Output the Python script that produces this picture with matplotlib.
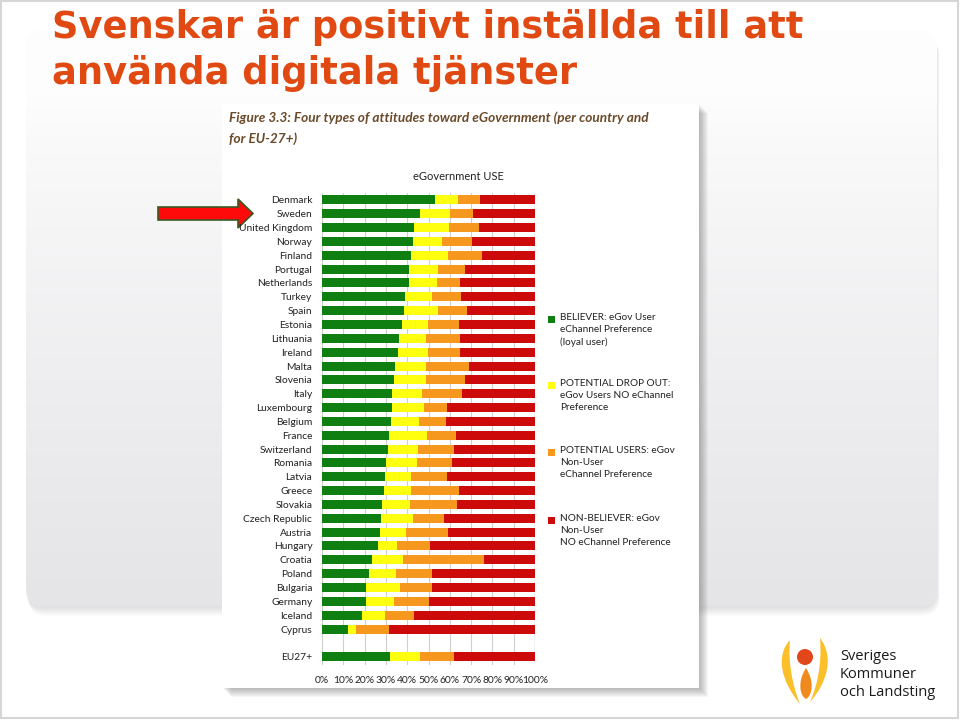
import numpy as np
import matplotlib
matplotlib.use('Agg')
import matplotlib.pyplot as plt
from matplotlib.patches import FancyBboxPatch, Rectangle, Polygon, Circle, PathPatch
from matplotlib.path import Path

# data (percent per segment, red is the rest)
countries = ['Denmark', 'Sweden', 'United Kingdom', 'Norway', 'Finland', 'Portugal',
             'Netherlands', 'Turkey', 'Spain', 'Estonia', 'Lithuania', 'Ireland',
             'Malta', 'Slovenia', 'Italy', 'Luxembourg', 'Belgium', 'France',
             'Switzerland', 'Romania', 'Latvia', 'Greece', 'Slovakia',
             'Czech Republic', 'Austria', 'Hungary', 'Croatia', 'Poland',
             'Bulgaria', 'Germany', 'Iceland', 'Cyprus', 'EU27+']
believer = [53.2, 46.0, 43.0, 42.5, 41.6, 41.0, 40.8, 39.1, 38.3, 37.4, 36.3, 35.6,
            34.2, 33.6, 33.0, 33.0, 32.2, 31.6, 31.2, 30.0, 29.5, 29.0, 28.4,
            27.9, 27.2, 26.1, 23.7, 22.3, 20.6, 20.6, 18.7, 12.4, 31.9]
drop_out = [10.5, 14.1, 16.7, 13.7, 17.4, 13.5, 13.0, 12.7, 16.2, 12.4, 12.4, 14.2,
            14.5, 15.1, 13.8, 15.0, 13.3, 17.9, 14.0, 14.7, 12.4, 12.6, 12.9,
            14.6, 12.2, 9.2, 14.1, 12.4, 16.0, 13.3, 11.1, 3.6, 14.1]
potential = [10.7, 10.7, 13.8, 14.1, 15.9, 12.7, 11.2, 13.5, 13.8, 14.3, 16.1, 15.2,
             20.5, 18.3, 19.1, 10.9, 12.7, 13.3, 16.7, 16.4, 16.7, 22.9, 22.0,
             14.6, 19.8, 15.6, 38.3, 16.8, 15.0, 16.2, 13.5, 15.6, 16.0]
non_believer = [100 - a - b - c for a, b, c in zip(believer, drop_out, potential)]

legend_labels = ['BELIEVER: eGov User\neChannel Preference\n(loyal user)',
                 'POTENTIAL DROP OUT:\neGov Users NO eChannel\nPreference',
                 'POTENTIAL USERS: eGov\nNon-User\neChannel Preference',
                 'NON-BELIEVER: eGov\nNon-User\nNO eChannel Preference']
colors = ['#0f7f12', '#ffff10', '#f7981e', '#cc0a0a']
tick_labels = ['%d%%' % v for v in range(0, 101, 10)]

fig = plt.figure(figsize=(9.6, 7.2), dpi=100)
fig.patch.set_facecolor('white')

# background slide drawn in pixel coordinates
bg = fig.add_axes([0, 0, 1, 1])
bg.set_xlim(0, 960)
bg.set_ylim(720, 0)
bg.axis('off')

bg.add_patch(Rectangle((1, 1), 957, 717, fill=False, edgecolor='#d6d6d6', lw=1.5))

# soft shadow under the grey panel
for i in range(6):
    bg.add_patch(FancyBboxPatch((26 + i * 0.5, 32 + i * 1.5), 911, 576,
                                boxstyle='round,pad=0,rounding_size=18',
                                facecolor='#999999', edgecolor='none', alpha=0.05,
                                zorder=-2))
panel = FancyBboxPatch((26, 30), 911, 576, boxstyle='round,pad=0,rounding_size=18',
                       facecolor='white', edgecolor='none', zorder=-1)
bg.add_patch(panel)
grad = np.clip((np.linspace(0, 1, 200) - 0.1) / 0.9, 0, 1) ** 0.8
shade = np.ones((200, 2, 3))
for k, c in enumerate([0.898, 0.898, 0.91]):
    shade[:, :, k] = (1 - grad[:, None]) * 0.995 + grad[:, None] * c
img = bg.imshow(shade, extent=(26, 937, 606, 30), aspect='auto', origin='upper',
                zorder=0)
img.set_clip_path(panel)
bg.set_xlim(0, 960)
bg.set_ylim(720, 0)

# shadow and white sheet of the figure image
for i in range(1, 10):
    bg.add_patch(Rectangle((222 + i, 104 + i), 477, 584, facecolor='#555555',
                           edgecolor='none', alpha=0.05, zorder=1))
bg.add_patch(Rectangle((222, 104), 477, 584, facecolor='white', edgecolor='none',
                       zorder=1.5))

# title
bg.text(52, 28, 'Svenskar är positivt inställda till att', fontsize=26.5,
        fontweight='bold', color='#e04a12', va='center', ha='left', zorder=3)
bg.text(52, 73, 'använda digitala tjänster', fontsize=26.5,
        fontweight='bold', color='#e04a12', va='center', ha='left', zorder=3)

# figure caption
bg.text(229, 118, 'Figure 3.3: Four types of attitudes toward eGovernment (per country and',
        fontsize=9.8, family='Lato', fontweight='bold', style='italic',
        color='#6b4a2a', va='center', zorder=3)
bg.text(229, 139, 'for EU-27+)', fontsize=9.8, family='Lato', fontweight='bold',
        style='italic', color='#6b4a2a', va='center', zorder=3)
bg.text(458, 177, 'eGovernment USE', fontsize=8, family='Lato', color='#222222',
        ha='center', va='center', zorder=3)

# legend
legend_y = [319, 385, 452, 520]
for lab, col, ly in zip(legend_labels, colors, legend_y):
    bg.add_patch(Rectangle((548, ly - 3.5), 7, 7, facecolor=col, edgecolor='none',
                           zorder=3))
    bg.text(560, ly - 6, lab, fontsize=7.2, family='Lato', color='#222222',
            va='top', ha='left', linespacing=1.45, zorder=3)

# red arrow pointing at Sweden
arrow = Polygon([(158, 207), (238, 207), (238, 199), (253, 213.5), (238, 228),
                 (238, 220), (158, 220)], closed=True, facecolor='#ff0a0a',
                edgecolor='#3a5a22', lw=1.2, zorder=3)
bg.add_patch(arrow)

# logo
left_flame = Path([(790, 640), (776, 655), (780, 680), (800, 704),
                   (792, 684), (788, 662), (790, 640)],
                  [Path.MOVETO, Path.CURVE4, Path.CURVE4, Path.CURVE4,
                   Path.CURVE4, Path.CURVE4, Path.CURVE4])
right_flame = Path([(820, 638), (834, 656), (828, 682), (810, 702),
                    (818, 684), (822, 662), (820, 638)],
                   [Path.MOVETO, Path.CURVE4, Path.CURVE4, Path.CURVE4,
                    Path.CURVE4, Path.CURVE4, Path.CURVE4])
drop = Path([(806, 668), (797, 682), (800, 696), (806, 699),
             (812, 696), (815, 682), (806, 668)],
            [Path.MOVETO, Path.CURVE4, Path.CURVE4, Path.CURVE4,
             Path.CURVE4, Path.CURVE4, Path.CURVE4])
bg.add_patch(PathPatch(left_flame, facecolor='#fbbf2a', edgecolor='none', zorder=3))
bg.add_patch(PathPatch(right_flame, facecolor='#fbbf2a', edgecolor='none', zorder=3))
bg.add_patch(PathPatch(drop, facecolor='#f18a1c', edgecolor='none', zorder=3))
bg.add_patch(Circle((805, 657), 8, facecolor='#e2461b', edgecolor='none', zorder=3))
for txt, ty in zip(['Sveriges', 'Kommuner', 'och Landsting'], [657, 674, 692]):
    bg.text(840, ty, txt, fontsize=10.5, family='Open Sans', color='#1a1a1a',
            va='center', ha='left', zorder=3)

# the bar chart itself
ax = fig.add_axes([322 / 960, 1 - 665 / 720, 213 / 960, 472 / 720])
ax.set_facecolor('white')
pos = list(range(32)) + [33]
left = [0] * len(countries)
for vals, col in zip([believer, drop_out, potential, non_believer], colors):
    ax.barh(pos, vals, left=left, height=0.65, color=col, edgecolor='none', zorder=3)
    left = [l + v for l, v in zip(left, vals)]

ax.set_xlim(0, 100)
ax.set_ylim(33.6, -0.5)
ax.set_xticks(range(0, 101, 10))
ax.set_xticklabels(tick_labels, fontsize=7.4, family='Lato', color='#222222')
ax.set_yticks(pos)
ax.set_yticklabels(countries, fontsize=7.4, family='Lato', color='#222222')
ax.tick_params(axis='both', length=0, pad=7)
ax.tick_params(axis='x', pad=8)
ax.grid(axis='x', color='#cfcfcf', lw=0.8, zorder=0)
ax.axvline(100, color='#555555', lw=0.8, zorder=4)
for s in ax.spines.values():
    s.set_visible(False)

fig.savefig('out.png', dpi=100)
